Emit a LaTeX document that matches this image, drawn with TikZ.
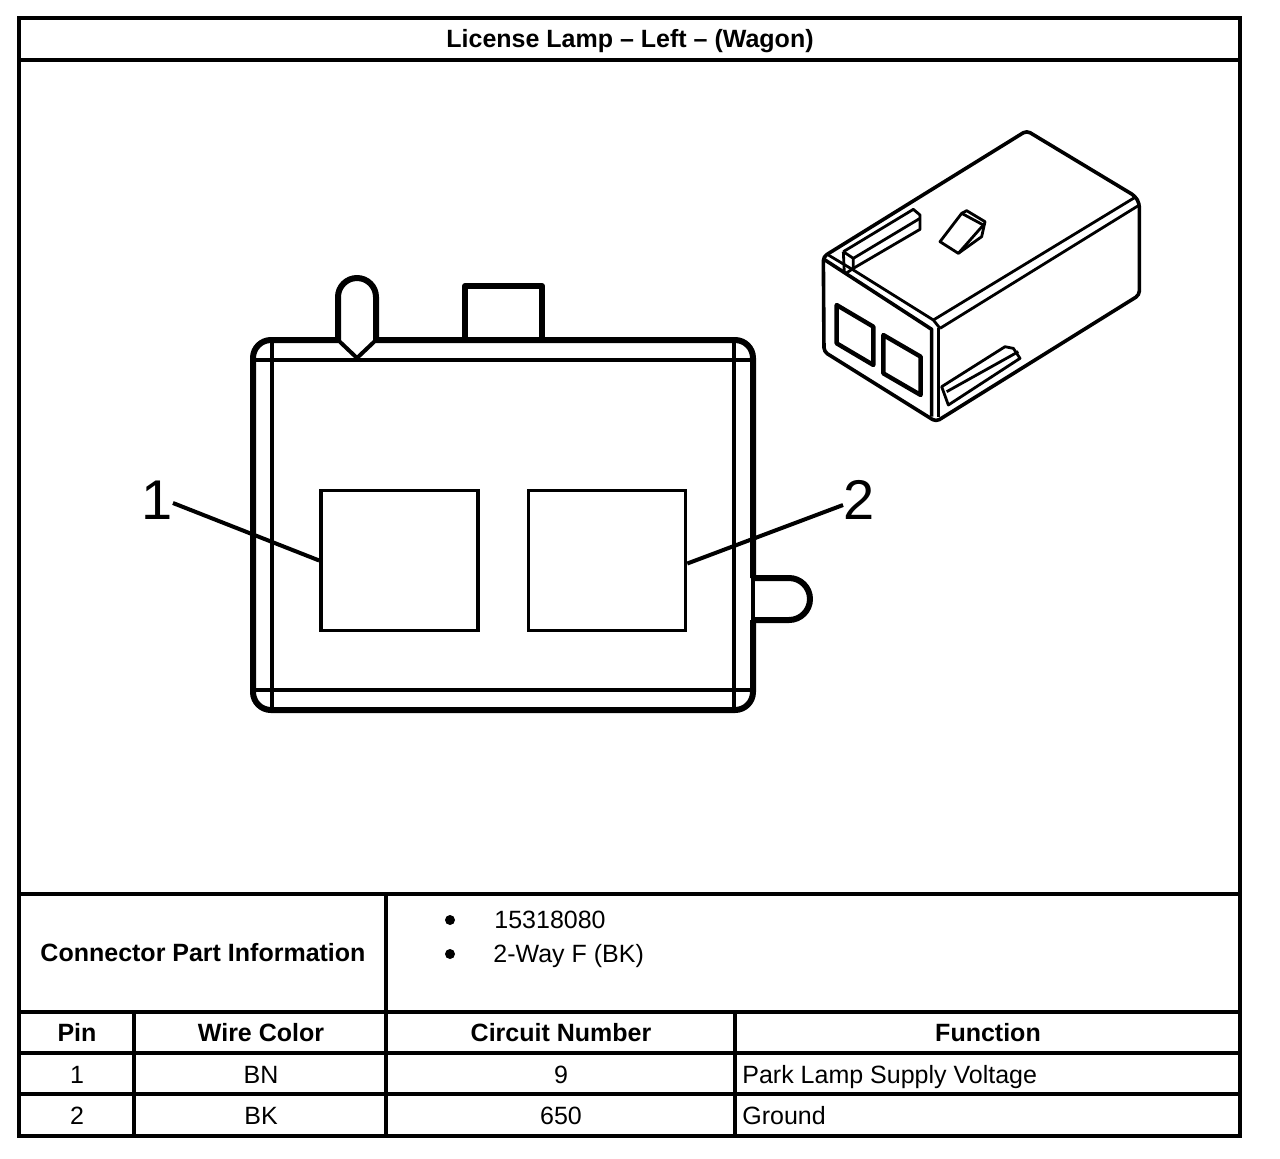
\documentclass[tikz,border=0pt]{standalone}
\usepackage{fontspec}
\setmainfont{Liberation Sans}

\tikzset{
    rule/.style={line width=2pt},
    shell/.style={line width=3pt, line join=round},
    thinline/.style={line width=2pt},
    pinbox/.style={draw, line width=1.8pt, minimum width=78.5pt, minimum height=70pt, inner sep=0pt},
    pinnum/.style={font=\fontsize{28}{28}\selectfont, inner sep=0pt},
    headcell/.style={font=\fontsize{12.5}{14}\selectfont\bfseries, inner sep=0pt, text height=9pt, text depth=3pt},
    bodycell/.style={font=\fontsize{12.5}{14}\selectfont, inner sep=0pt, text height=9pt, text depth=3pt},
    dotmark/.style={circle, fill, inner sep=0pt, minimum size=5pt},
    sketch/.style={line width=1.8pt, line join=round},
    sketchthin/.style={line width=1.4pt, line join=round},
}

\begin{document}
\begin{tikzpicture}[x=0.5pt, y=-0.5pt]
    \useasboundingbox (0,0) rectangle (1280,1158);

    % frame and table rules
    \draw[rule] (19,18) rectangle (1240,1136);
    \draw[rule] (19,60)--(1240,60);
    \draw[rule] (19,894)--(1240,894);
    \draw[rule] (19,1012)--(1240,1012);
    \draw[rule] (19,1053)--(1240,1053);
    \draw[rule] (19,1094)--(1240,1094);
    \draw[rule] (386,894)--(386,1136);
    \draw[rule] (134,1012)--(134,1136);
    \draw[rule] (735,1012)--(735,1136);

    % table text
    \node[headcell] (title) at (630,41) {License Lamp – Left – (Wagon)};
    \node[headcell] (partinfo) at (203,955) {Connector Part Information};
    \node[dotmark] (dotone) at (450,920) {};
    \node[dotmark] (dottwo) at (450,954) {};
    \node[bodycell, anchor=west] (partnum) at (494,922) {15318080};
    \node[bodycell, anchor=west] (partway) at (493,956) {2-Way F (BK)};
    \node[headcell] (headpin) at (77,1035) {Pin};
    \node[headcell] (headwire) at (261,1035) {Wire Color};
    \node[headcell] (headcircuit) at (561,1035) {Circuit Number};
    \node[headcell] (headfunc) at (988,1035) {Function};
    \node[bodycell] (pinone) at (77,1077) {1};
    \node[bodycell] (wireone) at (261,1077) {BN};
    \node[bodycell] (circuitone) at (561,1077) {9};
    \node[bodycell, anchor=west] (funcone) at (742,1077) {Park Lamp Supply Voltage};
    \node[bodycell] (pintwo) at (77,1118) {2};
    \node[bodycell] (wiretwo) at (261,1118) {BK};
    \node[bodycell] (circuittwo) at (561,1118) {650};
    \node[bodycell, anchor=west] (functwo) at (742,1118) {Ground};

    % face view of the connector
    \draw[shell, rounded corners=9pt] (338,340)--(253,340)--(253,710)--(753,710)--(753,620);
    \draw[shell, rounded corners=9pt] (753,578)--(753,340)--(376,340);
    \draw[thinline] (753,578)--(753,620);
    \draw[thinline] (256,360)--(750,360);
    \draw[thinline] (256,690)--(750,690);
    \draw[thinline] (272,342)--(272,708);
    \draw[thinline] (734,342)--(734,708);

    % keys on the housing
    \draw[shell] (338,340)--(338,297) arc[start angle=180, end angle=360, radius=19]--(376,340);
    \draw[thinline] (338,340)--(357,358)--(376,340);
    \draw[shell] (465,340)--(465,286)--(542,286)--(542,340);
    \draw[shell] (753,578)--(789,578) arc[start angle=-90, end angle=90, radius=21]--(753,620);

    % pin openings and their numbers
    \node[pinbox] (cavone) at (399.5,560.5) {};
    \node[pinbox] (cavtwo) at (607,560.5) {};
    \node[pinnum] (numone) at (157,500) {1};
    \node[pinnum] (numtwo) at (859,500) {2};
    \draw[thinline] ([yshift=-1.5pt]numone.east)--(cavone.west);
    \draw[thinline] ([yshift=-2.5pt]numtwo.west)--([yshift=-1.5pt]cavtwo.east);

    % small view, numbers read off in 1/3 pixel
    \begin{scope}[shift={(800,120)}, x=0.16667pt, y=-0.16667pt]
        \draw[sketch, rounded corners=2pt] (70,410)--(680,32)--(1005,228)--(1018,250)--(1018,525)--(408,905)--(72,695)--cycle;
        \draw[sketch] (72,418)--(395,628)--(395,890);
        \draw[sketch] (415,625)--(415,890);
        \draw[sketchthin] (85,405)--(160,450)--(400,600)--(420,625);
        \draw[sketchthin] (400,600)--(1005,232);
        \draw[sketchthin] (420,625)--(1018,255);
        % openings
        \draw[sketch, line width=2.2pt] (110,555)--(220,620)--(220,735)--(110,670)--cycle;
        \draw[sketch, line width=2.2pt] (250,645)--(362,710)--(362,825)--(250,760)--cycle;
        % upper rail
        \draw[sketchthin] (130,395)--(340,268)--(360,285)--(360,328)--(160,445);
        \draw[sketchthin] (130,395)--(160,415)--(360,295);
        \draw[sketchthin] (130,395)--(133,460);
        \draw[sketchthin] (160,415)--(160,445)--(135,462);
        % latch
        \draw[sketchthin] (420,365)--(485,280)--(500,272)--(555,305)--(545,350)--(475,400)--cycle;
        \draw[sketchthin] (485,280)--(550,315);
        \draw[sketchthin] (475,400)--(550,315);
        % lower rail
        \draw[sketchthin] (425,800)--(615,680)--(640,685)--(660,715)--(445,855)--cycle;
        \draw[sketchthin] (440,815)--(655,695);
    \end{scope}
\end{tikzpicture}
\end{document}
